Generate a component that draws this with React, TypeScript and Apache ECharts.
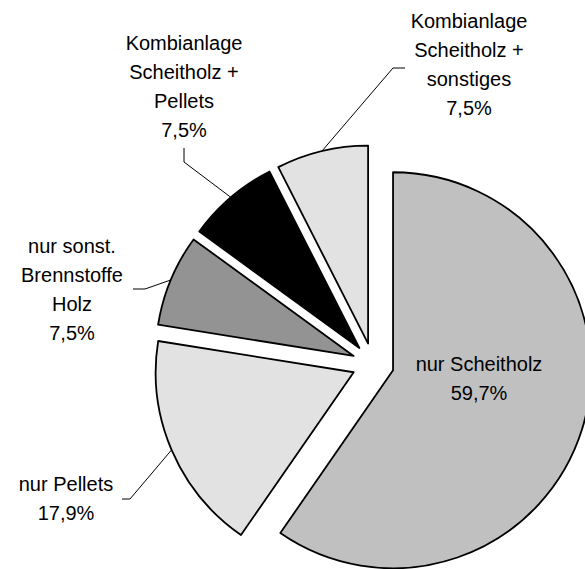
import React, { useEffect, useRef } from 'react';
import * as echarts from 'echarts';

const categories = [
  'nur Scheitholz',
  'nur Pellets',
  'nur sonst.\nBrennstoffe\nHolz',
  'Kombianlage\nScheitholz +\nPellets',
  'Kombianlage\nScheitholz +\nsonstiges',
];
const shares = [59.7, 17.9, 7.5, 7.5, 7.5];
const fills = ['#c0c0c0', '#e2e2e2', '#939393', '#000000', '#e2e2e2'];

const CENTER = [373, 364];
const RADIUS = 198;
const OFFSET = 21;
const labelCenters = [
  [479, 378],
  [66, 498],
  [72, 289],
  [184, 86],
  [469, 64],
];
const labelElbows: (number[][] | null)[] = [
  null,
  [[130, 499], [122, 499]],
  [[145, 289], [133, 289]],
  [[184, 162], [184, 148]],
  [[393, 68], [405, 68]],
];

function leaderStart(i: number): number[] {
  const total = shares.reduce((a, b) => a + b, 0);
  let cum = 0;
  for (let k = 0; k < i; k++) cum += shares[k];
  const deg = 90 - (360 * (cum + shares[i] / 2)) / total;
  const a = (deg * Math.PI) / 180;
  const rr = RADIUS + OFFSET;
  return [CENTER[0] + rr * Math.cos(a), CENTER[1] - rr * Math.sin(a)];
}

const fmt = (v: number) => v.toFixed(1).replace('.', ',') + '%';

export default function App() {
  const ref = useRef<HTMLDivElement>(null);
  useEffect(() => {
    if (!ref.current) return;
    const chart = echarts.init(ref.current, undefined, { renderer: 'svg' });
    const elements: any[] = [];
    categories.forEach((name, i) => {
      const el = labelElbows[i];
      if (el) {
        elements.push({
          type: 'polyline',
          silent: true,
          shape: { points: [leaderStart(i), el[0], el[1]] },
          style: { stroke: '#000', lineWidth: 1, fill: null },
          z: 10,
        });
      }
      elements.push({
        type: 'text',
        silent: true,
        x: labelCenters[i][0],
        y: labelCenters[i][1],
        z: 11,
        style: {
          text: name + '\n' + fmt(shares[i]),
          fill: '#000',
          fontFamily: 'Liberation Sans, Arial, sans-serif',
          fontSize: 20,
          lineHeight: 29,
          align: 'center',
          verticalAlign: 'middle',
          textAlign: 'center',
          textVerticalAlign: 'middle',
        },
      });
    });
    chart.setOption({
      animation: false,
      backgroundColor: '#ffffff',
      graphic: { elements },
      series: [
        {
          type: 'pie',
          center: CENTER,
          radius: RADIUS,
          startAngle: 90,
          clockwise: true,
          selectedMode: 'multiple',
          selectedOffset: OFFSET,
          avoidLabelOverlap: false,
          emphasis: { disabled: true },
          itemStyle: { borderColor: '#000', borderWidth: 1.8 },
          label: { show: false },
          labelLine: { show: false },
          data: categories.map((name, i) => ({
            name,
            value: shares[i],
            selected: true,
            itemStyle: { color: fills[i] },
          })),
        },
      ],
    });
    return () => chart.dispose();
  }, []);
  return (
    <div
      ref={ref}
      style={{ position: 'absolute', left: 0, top: 0, width: 585, height: 569 }}
    />
  );
}
